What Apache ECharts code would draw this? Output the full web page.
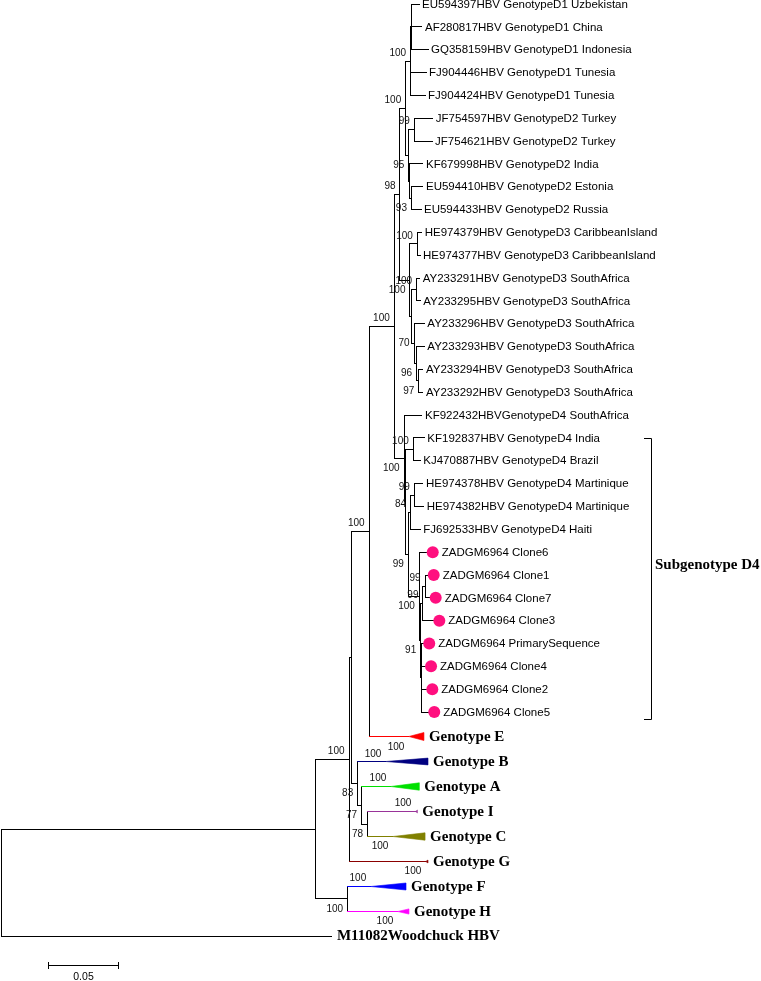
<!DOCTYPE html>
<html><head><meta charset="utf-8">
<script src="https://cdn.jsdelivr.net/npm/echarts@6/dist/echarts.min.js"></script>
<style>html,body{margin:0;padding:0;background:#fff}#c{width:761px;height:981px}</style>
</head><body><div id="c"></div>
<script>
// ---------- DATA ----------
// internal nodes: [id, parent, depth from root (substitutions/site), bootstrap]
const internalNodes = [
  ['root', null, 0, null],
  ['HBV', 'root', 0.2243, null],
  ['N1', 'HBV', 0.2486, 100],
  ['FH', 'HBV', 0.2476, 100],
  ['N2', 'N1', 0.2505, null],
  ['DE', 'N2', 0.2629, 100],
  ['BAIC', 'N2', 0.2548, 83],
  ['AIC', 'BAIC', 0.2576, 77],
  ['IC', 'AIC', 0.2618, 78],
  ['D', 'DE', 0.2809, 100],
  ['D123', 'D', 0.2850, 98],
  ['P1', 'D123', 0.2891, 100],
  ['D1', 'P1', 0.2926, 100],
  ['D1a', 'D1', 0.2934, null],
  ['D2', 'P1', 0.2913, 95],
  ['JF', 'D2', 0.2952, 99],
  ['Y', 'D2', 0.2920, null],
  ['Z', 'Y', 0.2932, 93],
  ['D3', 'D123', 0.2921, 100],
  ['HE', 'D3', 0.2974, 100],
  ['S', 'D3', 0.2934, null],
  ['AY', 'S', 0.2969, 100],
  ['X', 'S', 0.2950, 70],
  ['V', 'X', 0.2968, 96],
  ['W', 'V', 0.2984, 97],
  ['D4', 'D', 0.2879, 100],
  ['R', 'D4', 0.2888, null],
  ['KFp', 'R', 0.2945, 100],
  ['Q', 'R', 0.2909, 99],
  ['M', 'Q', 0.2926, 84],
  ['Mp', 'M', 0.2952, 99],
  ['K', 'Q', 0.2988, 100],
  ['T', 'K', 0.2998, 91],
  ['G173', 'T', 0.3014, 99],
  ['C17', 'G173', 0.3029, 99],
  ['U', 'T', 0.3004, null]
];

// sequence leaves in drawing order: [name, parent, tip depth]
const leaves = [
  ['EU594397HBV GenotypeD1 Uzbekistan', 'D1a', 0.2986],
  ['AF280817HBV GenotypeD1 China', 'D1a', 0.3007],
  ['GQ358159HBV GenotypeD1 Indonesia', 'D1a', 0.3050],
  ['FJ904446HBV GenotypeD1 Tunesia', 'D1', 0.3036],
  ['FJ904424HBV GenotypeD1 Tunesia', 'D1', 0.3029],
  ['JF754597HBV GenotypeD2 Turkey', 'JF', 0.3084],
  ['JF754621HBV GenotypeD2 Turkey', 'JF', 0.3079],
  ['KF679998HBV GenotypeD2 India', 'Y', 0.3014],
  ['EU594410HBV GenotypeD2 Estonia', 'Z', 0.3014],
  ['EU594433HBV GenotypeD2 Russia', 'Z', 0.3000],
  ['HE974379HBV GenotypeD3 CaribbeanIsland', 'HE', 0.3005],
  ['HE974377HBV GenotypeD3 CaribbeanIsland', 'HE', 0.2993],
  ['AY233291HBV GenotypeD3 SouthAfrica', 'AY', 0.2991],
  ['AY233295HBV GenotypeD3 SouthAfrica', 'AY', 0.2995],
  ['AY233296HBV GenotypeD3 SouthAfrica', 'X', 0.3024],
  ['AY233293HBV GenotypeD3 SouthAfrica', 'V', 0.3024],
  ['AY233294HBV GenotypeD3 SouthAfrica', 'W', 0.3014],
  ['AY233292HBV GenotypeD3 SouthAfrica', 'W', 0.3014],
  ['KF922432HBVGenotypeD4 SouthAfrica', 'D4', 0.3007],
  ['KF192837HBV GenotypeD4 India', 'KFp', 0.3024],
  ['KJ470887HBV GenotypeD4 Brazil', 'KFp', 0.2995],
  ['HE974378HBV GenotypeD4 Martinique', 'Mp', 0.3014],
  ['HE974382HBV GenotypeD4 Martinique', 'Mp', 0.3019],
  ['FJ692533HBV GenotypeD4 Haiti', 'M', 0.2995],
  ['ZADGM6964 Clone6', 'K', 0.3041],
  ['ZADGM6964 Clone1', 'C17', 0.3048],
  ['ZADGM6964 Clone7', 'C17', 0.3062],
  ['ZADGM6964 Clone3', 'G173', 0.3088],
  ['ZADGM6964 PrimarySequence', 'U', 0.3016],
  ['ZADGM6964 Clone4', 'U', 0.3029],
  ['ZADGM6964 Clone2', 'U', 0.3038],
  ['ZADGM6964 Clone5', 'U', 0.3052]
];

// study sequences marked with a dot
const markedPrefix = 'ZADGM6964';

// collapsed clades: [name, parent, clade root depth, max tip depth, bootstrap]
const collapsedClades = [
  ['Genotype E', 'DE', 0.2913, 0.3021, 100],
  ['Genotype B', 'BAIC', 0.2749, 0.3050, 100],
  ['Genotype A', 'AIC', 0.2784, 0.2988, 100],
  ['Genotype I', 'IC', 0.2963, 0.2974, 100],
  ['Genotype C', 'IC', 0.2799, 0.3029, 100],
  ['Genotype G', 'N1', 0.3034, 0.3050, 100],
  ['Genotype F', 'FH', 0.2641, 0.2893, 100],
  ['Genotype H', 'FH', 0.2834, 0.2914, 100]
];

// outgroup: [name, parent, tip depth]
const outgroup = ['M11082Woodchuck HBV', 'root', 0.2364];

const scaleBarLength = 0.05;
const scaleBarLabel = '0.05';
const cladeLabel = 'Subgenotype D4';

// ---------- STYLE / LAYOUT ----------
const cladeColors = {
  'Genotype E': '#ff0000', 'Genotype B': '#000080', 'Genotype A': '#00e000',
  'Genotype I': '#993399', 'Genotype C': '#808000', 'Genotype G': '#8b0000',
  'Genotype F': '#0000ff', 'Genotype H': '#ff00ff'
};
const cladeHalfHeight = {
  'Genotype E': 4, 'Genotype B': 3.4, 'Genotype A': 3.7, 'Genotype I': 1.5,
  'Genotype C': 3.7, 'Genotype G': 1.5, 'Genotype F': 3.5, 'Genotype H': 2.6
};
const supportPlacement = {
  N1:'above', FH:'below', DE:'above', BAIC:'below', AIC:'below', IC:'below',
  D:'above', D123:'above', P1:'above', D1:'above', D2:'below', JF:'above', Z:'below',
  D3:'below', HE:'above', AY:'above', X:'middle', V:'below', W:'below',
  D4:'below', KFp:'above', Q:'below', M:'above', Mp:'above', K:'below', T:'below',
  G173:'above', C17:'above',
  'Genotype E':'below', 'Genotype B':'above', 'Genotype A':'above', 'Genotype I':'above',
  'Genotype C':'below', 'Genotype G':'below', 'Genotype F':'above', 'Genotype H':'below'
};
const placeDy = { above: -8, below: 10, middle: 0 };
const PX_PER_UNIT = 1400, ROOT_PX = 1;
const ROW_PX = 22.84, ROW0_PX = 4, COLLAPSED_ROW_STEP = 1.09;
const W = 761, H = 981;
const X_MIN = -ROOT_PX / PX_PER_UNIT, X_MAX = X_MIN + W / PX_PER_UNIT;
const Y_MIN = -ROW0_PX / ROW_PX, Y_MAX = Y_MIN + H / ROW_PX;
const SCALE_X0 = 0.0338, SCALE_ROW = 42.105;
const SANS = '"Liberation Sans", Arial, sans-serif';
const SERIF = '"Liberation Serif", "Times New Roman", serif';
const MARK_COLOR = '#ff0f7f';

// ---------- TREE LAYOUT ----------
const nodes = {};
internalNodes.forEach(n => { nodes[n[0]] = { id: n[0], parent: n[1], depth: n[2], support: n[3], kids: [] }; });
const tips = [];
let row = 0;
leaves.forEach((l, i) => {
  if (i > 0) row += 1;
  tips.push({ name: l[0], parent: l[1], depth: l[2], row, kind: l[0].indexOf(markedPrefix) === 0 ? 'mark' : 'seq' });
});
collapsedClades.forEach(c => {
  row += COLLAPSED_ROW_STEP;
  tips.push({ name: c[0], parent: c[1], apex: c[2], depth: c[3], support: c[4], row, kind: 'clade' });
});
row += COLLAPSED_ROW_STEP;
tips.push({ name: outgroup[0], parent: outgroup[1], depth: outgroup[2], row, kind: 'out' });

tips.forEach(t => nodes[t.parent].kids.push(t));
internalNodes.forEach(n => { if (n[1]) nodes[n[1]].kids.push(nodes[n[0]]); });
function yOf(n) {
  if (n.row !== undefined) return n.row;
  if (n.y !== undefined) return n.y;
  const ys = n.kids.map(yOf);
  n.minY = Math.min(...ys); n.maxY = Math.max(...ys);
  n.y = (n.minY + n.maxY) / 2;
  return n.y;
}
yOf(nodes.root);

const segments = []; // [x1,y1,x2,y2,color]
internalNodes.forEach(n => {
  const nd = nodes[n[0]];
  if (nd.parent) segments.push([nodes[nd.parent].depth, nd.y, nd.depth, nd.y, '#000']);
  segments.push([nd.depth, nd.minY, nd.depth, nd.maxY, '#000']);
});
tips.forEach(t => {
  const px = nodes[t.parent].depth;
  if (t.kind === 'clade') segments.push([px, t.row, t.apex, t.row, cladeColors[t.name]]);
  else segments.push([px, t.row, t.depth, t.row, '#000']);
});

const wedgeTips = tips.filter(t => t.kind === 'clade');
const markedTips = tips.filter(t => t.kind === 'mark');
const supports = [];
internalNodes.forEach(n => { const nd = nodes[n[0]]; if (nd.support != null) supports.push({ x: nd.depth, y: nd.y, v: nd.support, pl: supportPlacement[nd.id] || 'above' }); });
wedgeTips.forEach(t => supports.push({ x: t.apex, y: t.row, v: t.support, pl: supportPlacement[t.name] || 'above' }));

// ---------- CHART ----------
const crisp = v => Math.round(v - 0.5) + 0.5;
const chart = echarts.init(document.getElementById('c'), null, { renderer: 'canvas' });
const option = {
  animation: false,
  backgroundColor: '#ffffff',
  grid: { left: 0, right: 0, top: 0, bottom: 0 },
  xAxis: { type: 'value', min: X_MIN, max: X_MAX, show: false },
  yAxis: { type: 'value', min: Y_MIN, max: Y_MAX, inverse: true, show: false },
  series: [
    {
      type: 'custom', name: 'branches', clip: false, silent: true,
      data: segments.map(s => [s[0], s[1], s[2], s[3]]),
      encode: { x: [0, 2], y: [1, 3] },
      renderItem: (params, api) => {
        const s = segments[params.dataIndex];
        const a = api.coord([s[0], s[1]]), b = api.coord([s[2], s[3]]);
        return { type: 'line', shape: { x1: crisp(a[0]), y1: crisp(a[1]), x2: crisp(b[0]), y2: crisp(b[1]) },
          style: { stroke: s[4], lineWidth: 1, lineCap: 'square' } };
      }
    },
    {
      type: 'custom', name: 'wedges', clip: false, silent: true,
      data: wedgeTips.map(t => [t.apex, t.row, t.depth]),
      encode: { x: [0, 2], y: 1 },
      renderItem: (params, api) => {
        const t = wedgeTips[params.dataIndex];
        const a = api.coord([t.apex, t.row]), b = api.coord([t.depth, t.row]);
        const h = cladeHalfHeight[t.name], c = cladeColors[t.name];
        const y = crisp(a[1]);
        return { type: 'polygon', shape: { points: [[a[0], y], [b[0], y - h], [b[0], y + h]] },
          style: { fill: c, stroke: c, lineWidth: 0.6 } };
      }
    },
    {
      type: 'scatter', name: 'marked', silent: true, z: 5,
      data: markedTips.map(t => [t.depth, t.row]),
      symbol: 'circle', symbolSize: 12, symbolOffset: [6, 0],
      itemStyle: { color: MARK_COLOR, opacity: 1 }
    },
    {
      type: 'custom', name: 'tipLabels', clip: false, silent: true,
      data: tips.map(t => [t.depth, t.row]),
      encode: { x: 0, y: 1 },
      renderItem: (params, api) => {
        const t = tips[params.dataIndex];
        const p = api.coord([t.depth, t.row]);
        let dx = 3, font = '11.5px ' + SANS;
        if (t.kind === 'mark') dx = 15;
        if (t.kind === 'clade' || t.kind === 'out') { dx = 5; font = 'bold 15px ' + SERIF; }
        return { type: 'text', x: p[0] + dx, y: p[1] + 0.5,
          style: { text: t.name, font, fill: '#000', align: 'left', verticalAlign: 'middle', textAlign: 'left', textVerticalAlign: 'middle' } };
      }
    },
    {
      type: 'custom', name: 'bootstrap', clip: false, silent: true,
      data: supports.map(s => [s.x, s.y]),
      encode: { x: 0, y: 1 },
      renderItem: (params, api) => {
        const s = supports[params.dataIndex];
        const p = api.coord([s.x, s.y]);
        return { type: 'text', x: p[0] - 4.5, y: p[1] + placeDy[s.pl],
          style: { text: String(s.v), font: '10px ' + SANS, fill: '#111', align: 'right', verticalAlign: 'middle', textAlign: 'right', textVerticalAlign: 'middle' } };
      }
    },
    {
      type: 'custom', name: 'scaleBar', clip: false, silent: true,
      data: [[SCALE_X0, SCALE_ROW, SCALE_X0 + scaleBarLength]],
      encode: { x: [0, 2], y: 1 },
      renderItem: (params, api) => {
        const a = api.coord([SCALE_X0, SCALE_ROW]), b = api.coord([SCALE_X0 + scaleBarLength, SCALE_ROW]);
        const y = crisp(a[1]), x1 = crisp(a[0]), x2 = crisp(b[0]);
        const st = { stroke: '#000', lineWidth: 1 };
        return { type: 'group', children: [
          { type: 'line', shape: { x1, y1: y, x2, y2: y }, style: st },
          { type: 'line', shape: { x1, y1: y - 3.5, x2: x1, y2: y + 3.5 }, style: st },
          { type: 'line', shape: { x1: x2, y1: y - 3.5, x2, y2: y + 3.5 }, style: st },
          { type: 'text', x: (x1 + x2) / 2, y: y + 11.5, style: { text: scaleBarLabel, font: '10.5px ' + SANS, fill: '#000', align: 'center', verticalAlign: 'middle', textAlign: 'center', textVerticalAlign: 'middle' } }
        ] };
      }
    }
  ],
  graphic: [
    { type: 'polyline', silent: true, shape: { points: [[644, 438.5], [651.5, 438.5], [651.5, 719.5], [644, 719.5]] }, style: { stroke: '#000', lineWidth: 1, fill: null } },
    { type: 'text', silent: true, x: 655, y: 565, style: { text: cladeLabel, font: 'bold 15px ' + SERIF, fill: '#000', verticalAlign: 'middle', textVerticalAlign: 'middle' } }
  ]
};
chart.setOption(option);
</script>
</body></html>
